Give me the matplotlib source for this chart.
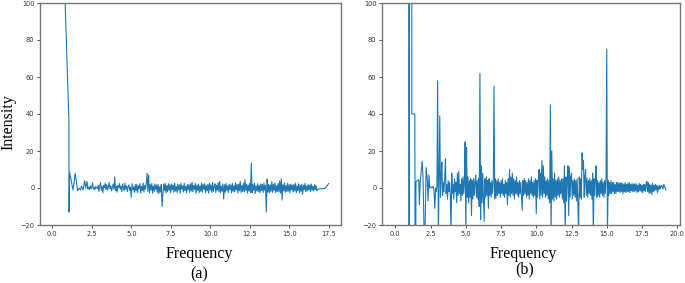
import numpy as np
import matplotlib
matplotlib.use('Agg')
import matplotlib.pyplot as plt

# ---- panel (a): spectrum ----
a_head_f = [0.72, 1.05, 1.06, 1.09, 1.20, 1.30, 1.38, 1.45, 1.52, 1.60, 1.70, 1.78,
            1.85, 1.95, 2.05, 2.12, 2.20, 2.25]
a_head_v = [125, 36, -13, 8.5, 4, -1, 3, 8, 4, -1.5, 0, -1,
            1, -1, 4, 0, 3.5, -0.5]
a_noise_start, a_noise_step = 2.30, 0.05
a_noise = [
    0.5, -0.8, 1.2, -0.5, 0.3, 2.8, -0.6, 0.4, -1.0, 0.8, 0.2, -0.3, 1.5, -1.8, 0.6, 2.9, -1.2, 0.9, -2.6, 1.4,
    0.3, 2.5, -0.9, 1.8, -1.1, 0.7, 3.0, -0.4, 1.2, -1.6, 0.5, 2.1, -0.8, 6.0, -1.5, 0.9, -2.2, 1.3, 0.2, 2.4,
    -0.7, 1.0, -1.9, 2.2, 0.1, -1.2, 2.6, -0.5, 1.1, -2.0, 0.8, 1.6, -1.3, 0.4, -5.0, 2.3, -0.9, 0.6, -2.4, 1.9,
    -1.6, 2.0, -2.5, 1.2, -0.3, 2.4, -2.8, 0.9, -1.4, 2.7, -2.1, 1.5, -0.6, 2.2, 8.0, -1.8, 7.0, -2.6, 1.8, -1.1,
    2.5, -2.9, 1.1, -1.7, 2.3, -0.8, 1.6, -2.4, 2.0, -3.0, 0.7, -2.2, 1.9, -10.0, -3.2, 2.1, -1.5, 2.6, -2.7, 1.3,
    -2.0, 2.4, -1.2, 1.8, -2.6, 2.2, -0.9, 1.5, -2.3, 2.7, -1.7, 0.8, -2.5, 2.1, -1.1, 1.7, -2.8, 2.5, -0.6, 1.2,
    -2.2, 2.6, -1.4, 0.9, -2.7, 2.0, -1.0, 1.8, -2.4, 2.3, -1.6, 3.2, -2.1, 1.4, -0.8, 2.5, -2.9, 1.6, -1.3, 2.2,
    -2.5, 1.1, -1.8, 2.7, -2.2, 1.9, -0.7, 2.4, -2.6, 1.3, -1.5, 2.0, -2.8, 2.6, -1.1, 1.7, -2.3, 3.0, -1.9, 0.8,
    2.3, -2.4, 1.5, -1.2, 2.8, -2.0, 3.5, -2.7, 1.0, -1.6, 2.2, -6.0, 1.8, -2.3, 2.4, -1.4, 1.2, -2.5, 2.1, -0.9,
    1.7, -2.6, 2.5, -1.8, 1.3, -2.2, 2.9, -1.0, 1.9, -2.7, 2.2, -1.5, 3.6, -2.4, 1.4, -1.9, 2.6, -2.1, 4.5, -1.3,
    2.0, -2.8, 1.6, -1.7, 2.4, -2.3, 13.5, -2.5, 1.8, -1.2, 2.7, -2.9, 1.1, -1.6, 2.3, -2.0, 1.5, -2.6, 2.2, -1.4,
    1.9, -2.5, 2.6, -1.1, 1.4, -13.0, 4.8, -2.2, 2.0, -2.7, 1.6, -1.8, 3.4, -2.4, 2.1, -1.3, 2.8, -2.6, 1.2, -1.9,
    2.5, -2.1, 3.8, -2.8, 5.0, -6.5, 1.7, -1.5, 2.9, -2.3, 1.3, -2.0, 2.4, -1.7, 1.8, -2.5, 2.2, -1.0, 1.6, -2.2,
    2.0, -1.6, 2.6, -2.4, 1.1, -1.3, 2.3, -2.7, 1.5, -1.8, 2.1, -3.5, 1.4, -0.9, 2.5, -2.0, 1.2, -1.5, 1.9, -1.1,
    1.6, -1.9, 2.2, -1.2, 0.9, -1.6, 1.8, -0.8, 1.3, -1.4, -0.7,
]
a_tail_f = [16.95, 17.10, 17.25, 17.35, 17.50]
a_tail_v = [-0.5, -0.4, -0.2, 0.6, 2.5]

# ---- panel (b): spectrum ----
b_head_f = [0.96, 0.975, 0.99, 1.15, 1.17, 1.38, 1.41, 1.46, 1.56, 1.66, 1.70, 1.76, 1.90,
            1.96, 2.04, 2.10, 2.18, 2.26, 2.32, 2.38, 2.44, 2.52, 2.60, 2.68, 2.74, 2.80, 2.86]
b_head_v = [500, -100, 500, 500, 40, 40, -100, 3.5, 4.0, 4.5, -9, 3, 14.5,
            6, -25, -25, 11, 5, -7, 7, 0, 0.5, 0, 1, -1, -11, 0]
b_noise_start, b_noise_step = 2.90, 0.05
b_noise = [
    -2, 1, 58, -25, 4, 39, -5, 6, 14, -4, 3, -2, 5, 16, -3, 2, -6, 4, -2, 3,
    -4, -25, 8, -3, 2, -6, 5, -2, 3, -8, 8, -4, 9, -3, 2, -7, 5, -4, 6, -3,
    4, 25, -25, 22, -5, 6, -8, 4, -5, 5, -15, 4, -6, 5, -4, 3, 7, -5, 4, -6,
    5, -10, 62, -17, 12, -8, 8, -6, -18, 5, -5, 6, -4, 4, -11, 5, -4, 3, -5, 4,
    -3, 4, 55, -6, 5, -5, 4, -4, 5, -3, 3, -5, 4, -3, 5, -4, 2, -5, 4, -3,
    3, -9, 5, -4, 10, -5, 6, -3, 8, -4, 5, -6, 4, -3, 6, -4, 3, -5, 4, -3,
    3, -5, -12, 4, -4, 5, -3, 4, -5, 3, -4, 5, -6, 4, -3, 6, -4, 3, -5, 4,
    -4, 5, -14, 4, -5, 6, 10, -6, 8, -4, 15, -5, 12, -3, 6, -5, 4, -4, 5, -6,
    4, -8, 45, -25, 20, -6, 5, -7, 8, -5, 4, -6, 5, -4, 6, -5, 4, -3, 5, -6,
    5, -8, 12, -25, 6, -7, 5, 12, -15, 11, -5, 6, 8, -6, 4, -4, 5, -5, 4, -7,
    5, -8, -25, 6, -5, 5, -6, 19, 10, 15, -5, 6, 10, -4, 5, -5, 4, -3, 5, -4,
    4, -6, 8, -25, 5, -4, 5, 12, -5, 4, -4, 3, -5, 4, -3, 5, -4, 3, -5, 4,
    -3, 5, 75, -25, 4, -4, 3, -3, 4, -3, 3, -2, 3, -3, 2, -3, 3, -2, 3, -2,
    2.5, -2.5, 3, -2, 2.5, -3, 2, -2, 3, -2.5, 2, -2, 2.5, -2, 3, -2.5, 2, -1.5, 2.5, -2,
    2, -2, 2.5, -1.5, 2, -2.5, 1.5, -2, 2.5, -1.5, 2, -2, 1.5, -2.5, 2, -1.5, 2, -2, 2.5, 3.5,
    -2, 3, -3, 2, -2.5, 1.5, -3.5, 2.5, -2, 1.5, -1.5, 2, -1, 1.5, -2.5, 1, -1, 1.5, -0.5, 1,
    1.5, 0.5, -0.5, 2, 1, 0, -1,
]


def build(head_f, head_v, start, step, noise, tail_f=(), tail_v=()):
    noise_f = start + step * np.arange(len(noise))
    f = np.concatenate([head_f, noise_f, tail_f])
    v = np.concatenate([head_v, noise, tail_v])
    return f, v


fa, va = build(a_head_f, a_head_v, a_noise_start, a_noise_step, a_noise, a_tail_f, a_tail_v)
fb, vb = build(b_head_f, b_head_v, b_noise_start, b_noise_step, b_noise)

W, H = 685, 283
fig = plt.figure(figsize=(W / 100, H / 100), dpi=100)
ax1 = fig.add_axes([40 / W, 1 - 225 / H, 301 / W, 222 / H])
ax2 = fig.add_axes([382 / W, 1 - 225 / H, 298 / W, 222 / H])

serif = ['Liberation Serif', 'DejaVu Serif']
for ax, f, v, xl in [(ax1, fa, va, (-0.78, 18.28)), (ax2, fb, vb, (-0.95, 20.2))]:
    ax.plot(f, v, color='#1f77b4', lw=0.8)
    ax.set_xlim(*xl)
    ax.set_ylim(-20, 100)
    ax.set_xticks(np.arange(0, xl[1], 2.5))
    ax.set_yticks(np.arange(-20, 101, 20))
    ax.tick_params(labelsize=4.8, length=2, width=0.6, pad=2, colors='#333333')
    for s in ax.spines.values():
        s.set_color('#777777')
        s.set_linewidth(1.0)

fig.text(8 / W, 1 - 122 / H, 'Intensity', rotation=90, ha='center', va='center',
         family=serif, fontsize=11.5)
fig.text(199 / W, 1 - 254 / H, 'Frequency', ha='center', va='center', family=serif, fontsize=11.5)
fig.text(199 / W, 1 - 274 / H, '(a)', ha='center', va='center', family=serif, fontsize=11.5)
fig.text(523 / W, 1 - 254 / H, 'Frequency', ha='center', va='center', family=serif, fontsize=11.5)
fig.text(525 / W, 1 - 269 / H, '(b)', ha='center', va='center', family=serif, fontsize=11.5)

fig.savefig('out.png', dpi=100)
